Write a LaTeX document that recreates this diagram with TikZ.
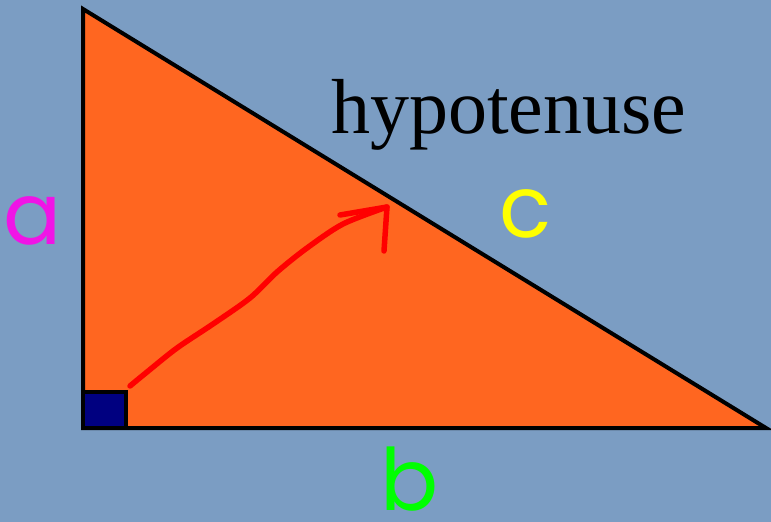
\documentclass[tikz,border=0pt]{standalone}
\usepackage{fontspec}
\setmainfont{Liberation Serif}
\newfontfamily\letterfont{Poppins}
\usepackage{tikz}
\usetikzlibrary{arrows.meta,calc}
\definecolor{bgblue}{RGB}{123,157,195}
\definecolor{triorange}{RGB}{255,102,32}
\definecolor{sqnavy}{RGB}{0,0,128}
\definecolor{letmag}{RGB}{240,20,230}
\definecolor{letyel}{RGB}{255,255,0}
\definecolor{letgrn}{RGB}{0,255,0}

\begin{document}
\begin{tikzpicture}[
  x=1pt,y=-1pt,
  edge/.style={draw=black,line width=4pt,line join=miter},
  side/.style={inner sep=0pt,anchor=base,font=\letterfont\fontsize{86}{86}\selectfont},
  stroke/.style={draw=red,line width=5.5pt,line cap=round,line join=round}
]
\fill[bgblue] (0,0) rectangle (771,522);
\useasboundingbox (0,0) rectangle (771,522);
% triangle corners
\coordinate (top) at (83,9);
\coordinate (corner) at (83,428);
\coordinate (right) at (766,428);
\filldraw[fill=triorange,edge] (top) -- (corner) -- (right) -- cycle;
\filldraw[fill=sqnavy,draw=black,line width=3.5pt] (corner) rectangle ++(43,-36);
% labels
\node[inner sep=0pt,anchor=base west,font=\fontsize{78}{78}\selectfont] (hyp) at (331,133) {hypotenuse};
\node[side,text=letmag] (a) at (33,244) {a};
\node[side,text=letyel] (c) at (526,237) {c};
\node[side,text=letgrn] (b) at (410,510) {b};
% hand drawn arrow
\coordinate (tail) at (130,386);
\coordinate (tip) at (387,207);
\draw[stroke] plot[smooth,tension=0.5] coordinates {(tail) (147,372) (177,348) (213,324) (250,298) (277,272) (307,248) (343,224) (tip)};
\draw[stroke] (340,215) -- (tip) -- (384,251);
\end{tikzpicture}
\end{document}
